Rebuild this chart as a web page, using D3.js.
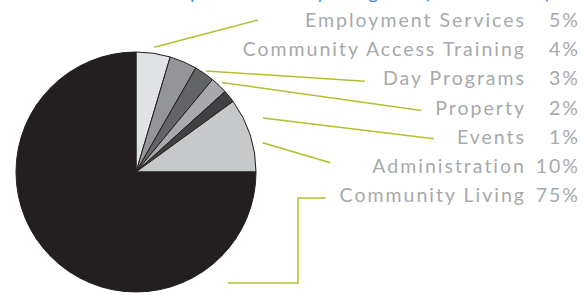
<!DOCTYPE html>
<html><head><meta charset="utf-8">
<script src="https://cdn.jsdelivr.net/npm/d3@7/dist/d3.min.js"></script>
<style>
html,body{margin:0;padding:0;background:#fff;overflow:hidden}
svg{display:block}
text{font-family:Lato,"Open Sans",sans-serif}
</style></head><body>
<svg id="c" width="584" height="293"></svg>
<script>
const categories = ["Employment Services","Community Access Training","Day Programs","Property","Events","Administration","Community Living"];
const sliceValues = [4.6, 3.7, 2.7, 2.3, 1.7, 10, 75];
const percentLabels = ["5%","4%","3%","2%","1%","10%","75%"];
const sliceColors = ["#e1e2e3","#939598","#636466","#a7a9ac","#414042","#c7c8ca","#231f20"];
const titleText = "Expenditures by Program (2013/2014)";

const svg = d3.select("#c");
const cx = 136, cy = 172, R = 120;
const green = "#b3bf2f";

// title (mostly cropped off the top, as in the reference)
svg.append("text").attr("x", 552).attr("y", -1.5).attr("text-anchor","end")
  .attr("fill","#4a8fd6").attr("font-size",20).attr("letter-spacing",1.4).text(titleText);

const pie = d3.pie().sort(null).value(d=>d)(sliceValues);
const arc = d3.arc().innerRadius(0).outerRadius(R);
const g = svg.append("g").attr("transform",`translate(${cx},${cy})`);
g.selectAll("path").data(pie).join("path")
  .attr("d", arc).attr("fill",(d,i)=>sliceColors[i])
  .attr("stroke","#231f20").attr("stroke-width",1).attr("stroke-linejoin","round");

// labels
const y = d3.scalePoint().domain(categories).range([27, 202]);
const pctX = 580, labX = 526;
const fs = 19.5, ls = 2;
const labels = svg.append("g").attr("fill","#a7a9ac").attr("font-size",fs).attr("letter-spacing",ls);
const labNodes = labels.selectAll("text.l").data(categories).join("text").attr("class","l")
  .attr("x", labX).attr("y", d=>y(d)).attr("text-anchor","end").text(d=>d);
labels.selectAll("text.p").data(percentLabels).join("text").attr("class","p")
  .attr("x", pctX).attr("y",(d,i)=>y(categories[i])).attr("text-anchor","end").text(d=>d);

// leader lines: layout config (angle in degrees from top, radius, gap before label, dy)
const leaders = [
  {i:0, ang:null, r:126, gap:47, dy:-7},
  {i:2, ang:null, r:123, gap:18, dy:-4},
  {i:3, ang:null, r:124, gap:14, dy:-4},
  {i:4, ang:67, r:138, gap:23, dy:-5},
  {i:5, ang:77, r:130, gap:42, dy:-10}
];
const starts = labNodes.nodes().map(n=>n.getBBox().x);
leaders.forEach(L=>{
  const p = pie[L.i];
  const a = L.ang==null ? (p.startAngle+p.endAngle)/2 : L.ang*Math.PI/180;
  const x1 = cx + L.r*Math.sin(a), y1 = cy - L.r*Math.cos(a);
  const x2 = starts[L.i] - L.gap, y2 = y(categories[L.i]) + L.dy;
  svg.append("line").attr("x1",x1).attr("y1",y1).attr("x2",x2).attr("y2",y2)
    .attr("stroke",green).attr("stroke-width",1.5);
});
// elbow for Community Living
const cl = 6;
const ey = y(categories[cl]) - 4;
const ex = starts[cl] - 14;
svg.append("path").attr("fill","none").attr("stroke",green).attr("stroke-width",1.5)
  .attr("d", d3.line()([[ex,ey],[298,ey],[298,283],[228,283]]));
</script>
</body></html>
